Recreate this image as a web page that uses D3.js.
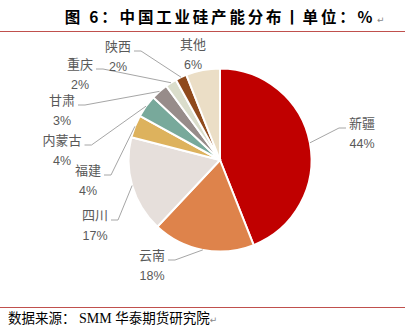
<!DOCTYPE html>
<html><head><meta charset="utf-8">
<script src="https://cdn.jsdelivr.net/npm/d3@7"></script>
<style>body{margin:0;background:#fff}svg{display:block}</style>
</head><body>
<script>
const categories = ["新疆","云南","四川","福建","内蒙古","甘肃","重庆","陕西","其他"];
const values = [44,18,17,4,4,3,2,2,6];
const pctLabels = ["44%","18%","17%","4%","4%","3%","2%","2%","6%"];
const colors = ["#C00000","#DE834B","#E6DFDB","#DDB25D","#78A99B","#978C8A","#DADDCB","#8F4A1D","#EBDEC6"];
// label layout (relative to pie centre); dir: leader direction from label (1 right, -1 left, 0 none)
const labelPos = [[142,-32,-1],[-68,100,1],[-125,60,1],[-132,15,1],[-158,-15,1],[-158,-55,1],[-140,-91,1],[-102,-109,1],[-27,-111,0]];

const W=405,H=335, cx=220, cy=160, R=91.5;
const svg=d3.select("body").append("svg").attr("width",W).attr("height",H);

// title
svg.append("text").attr("x",220).attr("y",23).attr("text-anchor","middle")
  .attr("font-family","Noto Sans CJK SC").attr("font-weight","bold").attr("font-size",15.5)
  .attr("letter-spacing",2.8).attr("fill","#000").text("图 6：中国工业硅产能分布丨单位：%");
svg.append("text").attr("x",377).attr("y",23).attr("font-size",9).attr("fill","#888").attr("font-family","DejaVu Sans").text("↵");
svg.append("line").attr("x1",0).attr("x2",W).attr("y1",31.5).attr("y2",31.5).attr("stroke","#C0504D").attr("stroke-width",1);
svg.append("line").attr("x1",0).attr("x2",W).attr("y1",307.5).attr("y2",307.5).attr("stroke","#C0504D").attr("stroke-width",1);

const src = svg.append("text").attr("x",8).attr("y",323).attr("font-size",13.5).attr("fill","#000").attr("font-family","Noto Sans CJK SC");
src.append("tspan").text("数据来源：");
src.append("tspan").attr("font-family","Liberation Serif").attr("font-size",14).text(" SMM ");
src.append("tspan").text("华泰期货研究院");
src.append("tspan").attr("font-family","DejaVu Sans").attr("font-size",9).attr("fill","#888").text("↵");

const pie=d3.pie().sort(null).value(d=>d)(values);
const arc=d3.arc().innerRadius(0).outerRadius(R);
const g=svg.append("g").attr("transform",`translate(${cx},${cy})`);
g.selectAll("path").data(pie).join("path").attr("d",arc)
  .attr("fill",(d,i)=>colors[i]).attr("stroke","#fff").attr("stroke-width",2);

const edge=d3.arc().innerRadius(R).outerRadius(R);
pie.forEach((d,i)=>{
  const [lx,ly,dir]=labelPos[i];
  const name=g.append("text").attr("x",lx).attr("y",ly).attr("text-anchor","middle")
    .attr("font-family","Noto Sans CJK SC").attr("font-size",13).attr("fill","#595959").text(categories[i]);
  g.append("text").attr("x",lx).attr("y",ly+20).attr("text-anchor","middle")
    .attr("font-family","Liberation Sans Narrow, Liberation Sans").attr("font-size",12.5).attr("fill","#595959").text(pctLabels[i]);
  if(dir!==0){
    const w=name.node().getComputedTextLength();
    const sx=lx+dir*(w/2+3), sy=ly;
    const [px,py]=edge.centroid(d);
    g.append("path").attr("d",`M${sx},${sy}H${sx+dir*7}L${px},${py}`)
      .attr("fill","none").attr("stroke","#A6A6A6").attr("stroke-width",1);
  }
});
</script>
</body></html>
